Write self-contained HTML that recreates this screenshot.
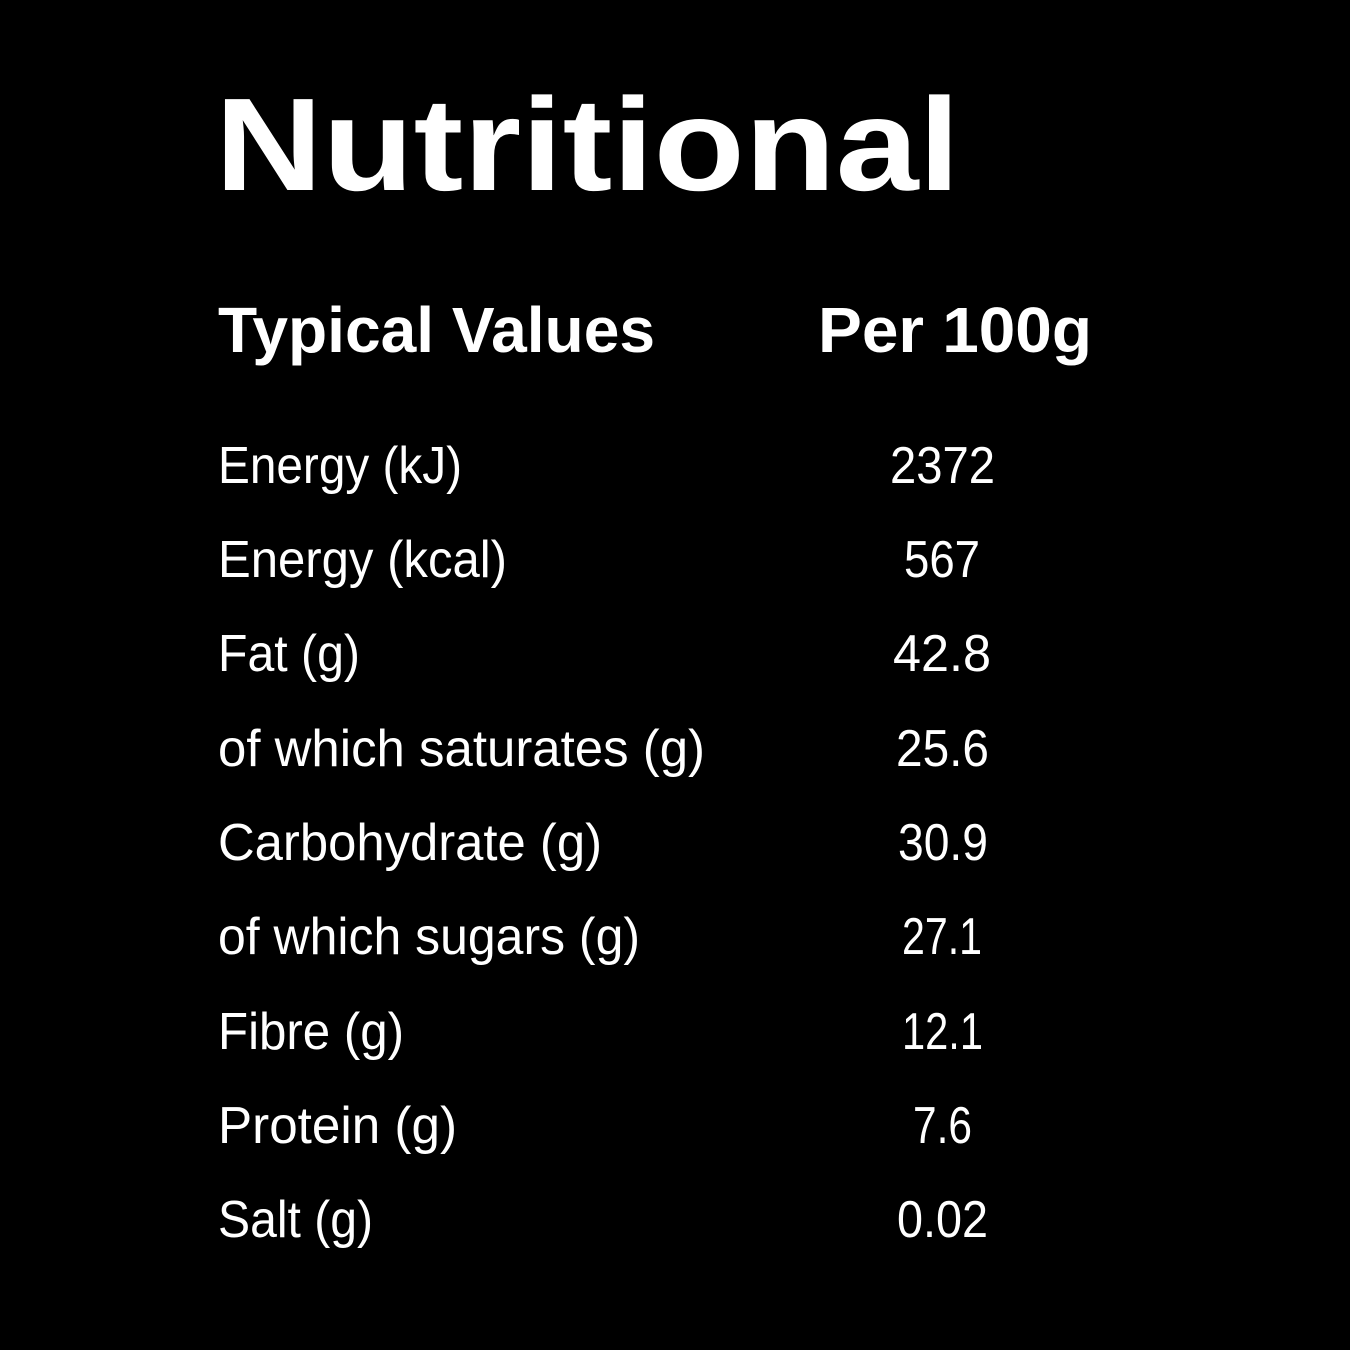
<!DOCTYPE html>
<html><head><meta charset="utf-8"><style>
html,body{margin:0;padding:0;background:#000;}
svg{display:block}
text{fill:#fff;font-family:"Liberation Sans",sans-serif;}
</style></head><body>
<svg width="1350" height="1350" viewBox="0 0 1350 1350" xmlns="http://www.w3.org/2000/svg">
<rect width="1350" height="1350" fill="#000"/>
<text x="215" y="190" font-size="132" font-weight="bold" textLength="745" lengthAdjust="spacingAndGlyphs">Nutritional</text>
<text x="218" y="352" font-size="64" font-weight="bold" textLength="437" lengthAdjust="spacingAndGlyphs">Typical Values</text>
<text x="818" y="352" font-size="64" font-weight="bold" textLength="274" lengthAdjust="spacingAndGlyphs">Per 100g</text>
<g font-size="52">
<text x="218" y="483" textLength="244" lengthAdjust="spacingAndGlyphs">Energy (kJ)</text>
<text x="218" y="577" textLength="289" lengthAdjust="spacingAndGlyphs">Energy (kcal)</text>
<text x="218" y="671" textLength="142" lengthAdjust="spacingAndGlyphs">Fat (g)</text>
<text x="218" y="766" textLength="487" lengthAdjust="spacingAndGlyphs">of which saturates (g)</text>
<text x="218" y="860" textLength="384" lengthAdjust="spacingAndGlyphs">Carbohydrate (g)</text>
<text x="218" y="954" textLength="422" lengthAdjust="spacingAndGlyphs">of which sugars (g)</text>
<text x="218" y="1049" textLength="186" lengthAdjust="spacingAndGlyphs">Fibre (g)</text>
<text x="218" y="1143" textLength="239" lengthAdjust="spacingAndGlyphs">Protein (g)</text>
<text x="218" y="1237" textLength="155" lengthAdjust="spacingAndGlyphs">Salt (g)</text>
<text x="890" y="483" textLength="105" lengthAdjust="spacingAndGlyphs">2372</text>
<text x="904" y="577" textLength="76" lengthAdjust="spacingAndGlyphs">567</text>
<text x="893" y="671" textLength="98" lengthAdjust="spacingAndGlyphs">42.8</text>
<text x="896" y="766" textLength="93" lengthAdjust="spacingAndGlyphs">25.6</text>
<text x="898" y="860" textLength="90" lengthAdjust="spacingAndGlyphs">30.9</text>
<text x="902" y="954" textLength="80" lengthAdjust="spacingAndGlyphs">27.1</text>
<text x="902" y="1049" textLength="81" lengthAdjust="spacingAndGlyphs">12.1</text>
<text x="913" y="1143" textLength="59" lengthAdjust="spacingAndGlyphs">7.6</text>
<text x="897" y="1237" textLength="91" lengthAdjust="spacingAndGlyphs">0.02</text>
</g>
</svg>
</body></html>
